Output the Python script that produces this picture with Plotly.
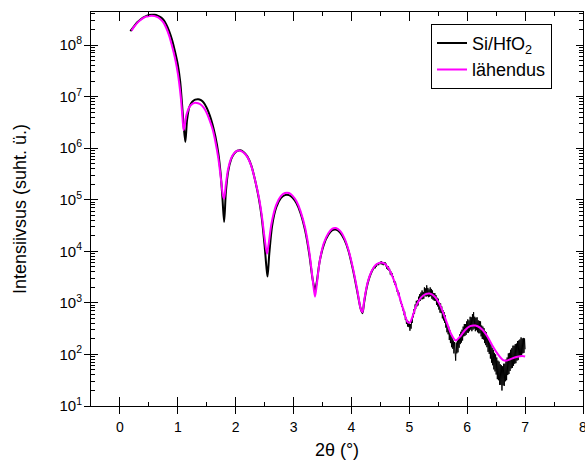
import numpy as np
import plotly.graph_objects as go

# ---- values (log10 of intensity, arbitrary units) ----
# measured curve Si/HfO2, smooth low-angle part
data_x_a = [0.18, 0.25, 0.30, 0.35, 0.40, 0.45, 0.50, 0.55, 0.60, 0.65, 0.70, 0.75, 0.80, 0.85,
            0.90, 0.95, 1.00, 1.04, 1.07, 1.10, 1.13, 1.16, 1.20, 1.25, 1.30, 1.35, 1.40, 1.45,
            1.50, 1.55, 1.60, 1.65, 1.70, 1.74, 1.77, 1.80, 1.83, 1.87, 1.92, 1.97, 2.03, 2.08,
            2.13, 2.20, 2.27, 2.33, 2.40, 2.45, 2.50, 2.53, 2.55, 2.58, 2.63, 2.70, 2.78, 2.85,
            2.92, 2.98, 3.05, 3.12, 3.20, 3.27, 3.33, 3.37, 3.40, 3.45, 3.52, 3.60, 3.67, 3.73,
            3.80, 3.88, 3.95, 4.03, 4.10, 4.16, 4.19, 4.22, 4.26, 4.30, 4.34, 4.37, 4.40]
data_log_a = [8.27, 8.37, 8.44, 8.49, 8.53, 8.56, 8.58, 8.585, 8.585, 8.57, 8.54, 8.49, 8.40, 8.27,
              8.10, 7.88, 7.62, 7.30, 6.90, 6.45, 6.12, 6.55, 6.80, 6.90, 6.94, 6.95, 6.93, 6.88,
              6.78, 6.64, 6.46, 6.22, 5.90, 5.50, 5.05, 4.57, 5.15, 5.55, 5.78, 5.89, 5.95, 5.96,
              5.93, 5.84, 5.66, 5.40, 5.02, 4.65, 4.10, 3.70, 3.51, 3.95, 4.50, 4.85, 5.03, 5.09,
              5.09, 5.04, 4.93, 4.74, 4.40, 3.95, 3.45, 3.25, 3.40, 3.80, 4.12, 4.32, 4.41, 4.42,
              4.37, 4.22, 4.00, 3.62, 3.22, 2.88, 2.80, 3.02, 3.28, 3.46, 3.58, 3.65, 3.70]

# measured curve, noisy high-angle part (scan step 0.01 deg, 4.40 ... 7.00)
data_x_b = [4.40, 4.41, 4.42, 4.43, 4.44, 4.45, 4.46, 4.47, 4.48, 4.49,
            4.50, 4.51, 4.52, 4.53, 4.54, 4.55, 4.56, 4.57, 4.58, 4.59,
            4.60, 4.61, 4.62, 4.63, 4.64, 4.65, 4.66, 4.67, 4.68, 4.69,
            4.70, 4.71, 4.72, 4.73, 4.74, 4.75, 4.76, 4.77, 4.78, 4.79,
            4.80, 4.81, 4.82, 4.83, 4.84, 4.85, 4.86, 4.87, 4.88, 4.89,
            4.90, 4.91, 4.92, 4.93, 4.94, 4.95, 4.96, 4.97, 4.98, 4.99,
            5.00, 5.01, 5.02, 5.03, 5.04, 5.05, 5.06, 5.07, 5.08, 5.09,
            5.10, 5.11, 5.12, 5.13, 5.14, 5.15, 5.16, 5.17, 5.18, 5.19,
            5.20, 5.21, 5.22, 5.23, 5.24, 5.25, 5.26, 5.27, 5.28, 5.29,
            5.30, 5.31, 5.32, 5.33, 5.34, 5.35, 5.36, 5.37, 5.38, 5.39,
            5.40, 5.41, 5.42, 5.43, 5.44, 5.45, 5.46, 5.47, 5.48, 5.49,
            5.50, 5.51, 5.52, 5.53, 5.54, 5.55, 5.56, 5.57, 5.58, 5.59,
            5.60, 5.61, 5.62, 5.63, 5.64, 5.65, 5.66, 5.67, 5.68, 5.69,
            5.70, 5.71, 5.72, 5.73, 5.74, 5.75, 5.76, 5.77, 5.78, 5.79,
            5.80, 5.81, 5.82, 5.83, 5.84, 5.85, 5.86, 5.87, 5.88, 5.89,
            5.90, 5.91, 5.92, 5.93, 5.94, 5.95, 5.96, 5.97, 5.98, 5.99,
            6.00, 6.01, 6.02, 6.03, 6.04, 6.05, 6.06, 6.07, 6.08, 6.09,
            6.10, 6.11, 6.12, 6.13, 6.14, 6.15, 6.16, 6.17, 6.18, 6.19,
            6.20, 6.21, 6.22, 6.23, 6.24, 6.25, 6.26, 6.27, 6.28, 6.29,
            6.30, 6.31, 6.32, 6.33, 6.34, 6.35, 6.36, 6.37, 6.38, 6.39,
            6.40, 6.41, 6.42, 6.43, 6.44, 6.45, 6.46, 6.47, 6.48, 6.49,
            6.50, 6.51, 6.52, 6.53, 6.54, 6.55, 6.56, 6.57, 6.58, 6.59,
            6.60, 6.61, 6.62, 6.63, 6.64, 6.65, 6.66, 6.67, 6.68, 6.69,
            6.70, 6.71, 6.72, 6.73, 6.74, 6.75, 6.76, 6.77, 6.78, 6.79,
            6.80, 6.81, 6.82, 6.83, 6.84, 6.85, 6.86, 6.87, 6.88, 6.89,
            6.90, 6.91, 6.92, 6.93, 6.94, 6.95, 6.96, 6.97, 6.98, 6.99,
            7.00]
data_log_b = [3.71, 3.67, 3.72, 3.70, 3.76, 3.73, 3.77, 3.73, 3.79, 3.75,
              3.80, 3.75, 3.81, 3.74, 3.78, 3.73, 3.79, 3.74, 3.79, 3.71,
              3.76, 3.66, 3.71, 3.64, 3.71, 3.62, 3.66, 3.55, 3.61, 3.52,
              3.58, 3.48, 3.52, 3.40, 3.44, 3.35, 3.41, 3.30, 3.33, 3.21,
              3.25, 3.14, 3.20, 3.10, 3.12, 2.99, 3.03, 2.92, 2.97, 2.85,
              2.90, 2.76, 2.83, 2.67, 2.72, 2.59, 2.67, 2.54, 2.65, 2.53,
              2.60, 2.46, 2.59, 2.50, 2.66, 2.61, 2.79, 2.72, 2.88, 2.79,
              2.97, 2.88, 3.04, 2.93, 3.05, 2.95, 3.12, 3.03, 3.17, 3.04,
              3.20, 3.07, 3.24, 3.07, 3.21, 3.08, 3.30, 3.13, 3.28, 3.12,
              3.34, 3.13, 3.29, 3.11, 3.26, 3.12, 3.30, 3.13, 3.27, 3.08,
              3.24, 3.06, 3.19, 3.04, 3.19, 3.04, 3.15, 2.96, 3.10, 2.93,
              3.08, 2.87, 3.00, 2.81, 2.99, 2.80, 2.93, 2.70, 2.86, 2.66,
              2.82, 2.61, 2.76, 2.52, 2.64, 2.43, 2.60, 2.39, 2.54, 2.28,
              2.47, 2.22, 2.38, 2.14, 2.35, 2.11, 2.27, 2.02, 2.24, 2.01,
              1.88, 2.23, 2.02, 2.27, 2.04, 2.30, 2.13, 2.39, 2.20, 2.44,
              2.23, 2.48, 2.27, 2.54, 2.35, 2.59, 2.36, 2.59, 2.38, 2.64,
              2.42, 2.68, 2.42, 2.66, 2.45, 2.73, 2.48, 2.72, 2.45, 2.78,
              2.48, 2.82, 2.50, 2.73, 2.45, 2.71, 2.47, 2.72, 2.43, 2.66,
              2.41, 2.65, 2.41, 2.64, 2.35, 2.56, 2.30, 2.54, 2.29, 2.51,
              2.22, 2.45, 2.18, 2.43, 2.14, 2.36, 2.05, 2.29, 2.01, 2.25,
              1.92, 2.20, 1.84, 2.13, 1.79, 2.09, 1.71, 2.03, 1.67, 2.00,
              1.61, 1.94, 1.52, 1.88, 1.50, 1.86, 1.41, 1.81, 1.41, 1.79,
              1.30, 1.77, 1.40, 1.82, 1.39, 1.82, 1.48, 1.90, 1.50, 1.94,
              1.60, 2.02, 1.62, 2.03, 1.68, 2.09, 1.73, 2.12, 1.74, 2.17,
              1.78, 2.17, 1.82, 2.20, 1.83, 2.21, 1.88, 2.26, 1.89, 2.27,
              1.95, 2.29, 1.95, 2.33, 1.98, 2.31, 2.02, 2.32, 2.03, 2.31,
              2.10]

# fitted curve "lähendus"
fit_x = [0.20, 0.25, 0.30, 0.35, 0.40, 0.45, 0.50, 0.55, 0.60, 0.65, 0.70, 0.75, 0.80, 0.85, 0.90,
         0.95, 1.00, 1.05, 1.08, 1.10, 1.12, 1.15, 1.20, 1.25, 1.30, 1.35, 1.40, 1.45, 1.50, 1.55,
         1.60, 1.65, 1.70, 1.75, 1.78, 1.80, 1.83, 1.87, 1.92, 1.97, 2.03, 2.08, 2.13, 2.20, 2.27,
         2.33, 2.40, 2.45, 2.50, 2.54, 2.57, 2.62, 2.70, 2.78, 2.85, 2.92, 2.98, 3.05, 3.12, 3.20,
         3.27, 3.33, 3.37, 3.40, 3.45, 3.52, 3.60, 3.67, 3.73, 3.80, 3.88, 3.95, 4.03, 4.10, 4.16,
         4.19, 4.22, 4.28, 4.35, 4.42, 4.50, 4.57, 4.65, 4.73, 4.82, 4.90, 4.97, 5.01, 5.05, 5.12,
         5.20, 5.28, 5.35, 5.43, 5.52, 5.62, 5.72, 5.80, 5.88, 5.96, 6.05, 6.14, 6.22, 6.32, 6.42,
         6.52, 6.62, 6.68, 6.75, 6.85, 6.95, 7.00]
fit_log = [8.28, 8.36, 8.43, 8.48, 8.52, 8.55, 8.56, 8.565, 8.56, 8.54, 8.50, 8.44, 8.33, 8.18, 7.98,
           7.75, 7.45, 7.00, 6.60, 6.35, 6.45, 6.65, 6.80, 6.86, 6.88, 6.87, 6.84, 6.78, 6.68, 6.54,
           6.37, 6.12, 5.80, 5.35, 5.08, 5.02, 5.30, 5.60, 5.80, 5.90, 5.95, 5.95, 5.92, 5.83, 5.65,
           5.40, 5.05, 4.70, 4.25, 3.95, 4.15, 4.55, 4.90, 5.07, 5.13, 5.13, 5.08, 4.97, 4.78, 4.45,
           4.00, 3.45, 3.12, 3.35, 3.80, 4.15, 4.35, 4.44, 4.45, 4.40, 4.25, 4.02, 3.65, 3.25, 2.88,
           2.82, 3.05, 3.40, 3.62, 3.74, 3.78, 3.76, 3.65, 3.45, 3.15, 2.85, 2.63, 2.62, 2.72, 2.95,
           3.10, 3.17, 3.18, 3.13, 2.98, 2.70, 2.40, 2.27, 2.35, 2.47, 2.55, 2.56, 2.52, 2.40, 2.20,
           2.02, 1.89, 1.88, 1.91, 1.95, 1.97, 1.96]

series_names = ["Si/HfO<sub>2</sub>", "lähendus"]
x_title = "2θ (°)"
y_title = "Intensiivsus (suht. ü.)"
x_tickvals = [0, 1, 2, 3, 4, 5, 6, 7, 8]
y_exponents = [1, 2, 3, 4, 5, 6, 7, 8]

FONT = "Arial, 'Liberation Sans', sans-serif"

fig = go.Figure()
fig.add_trace(go.Scatter(
    x=data_x_a, y=10 ** np.array(data_log_a), mode="lines",
    line=dict(color="black", width=2, shape="spline", smoothing=0.8),
    name=series_names[0], legendgroup="d"))
fig.add_trace(go.Scatter(
    x=data_x_b, y=10 ** np.array(data_log_b), mode="lines",
    line=dict(color="black", width=1),
    name=series_names[0], legendgroup="d", showlegend=False))
fig.add_trace(go.Scatter(
    x=fit_x, y=10 ** np.array(fit_log), mode="lines", xaxis="x2", yaxis="y2",
    line=dict(color="#FF00FF", width=2, shape="spline", smoothing=0.8),
    name=series_names[1]))

xr = [-0.5, 8.0]
yr = [1, 8.64]

fig.update_layout(
    width=585, height=466,
    margin=dict(l=91, r=2, t=12, b=60, autoexpand=False),
    paper_bgcolor="white", plot_bgcolor="white",
    font=dict(family=FONT, color="black", size=14),
    showlegend=True,
    legend=dict(x=0.937, y=0.97, xanchor="right", yanchor="top",
                bgcolor="white", bordercolor="black", borderwidth=1,
                font=dict(size=18, family=FONT), tracegroupgap=0),
    xaxis=dict(range=xr, tickmode="array", tickvals=x_tickvals,
               ticktext=[str(v) for v in x_tickvals],
               ticks="inside", ticklen=9, tickwidth=1,
               tickcolor="black", showline=True, linecolor="black", linewidth=1,
               mirror="allticks", showgrid=False, zeroline=False, automargin=False,
               ticklabeloverflow="allow",
               minor=dict(dtick=0.5, tick0=0, ticks="inside", ticklen=4, tickcolor="black", showgrid=False),
               tickfont=dict(size=14), ticklabelstandoff=8,
               title=dict(text=x_title, font=dict(size=18), standoff=9)),
    yaxis=dict(type="log", range=yr, tickmode="array",
               tickvals=[10 ** e for e in y_exponents],
               ticktext=["10<sup>%d</sup>" % e for e in y_exponents],
               ticks="inside", ticklen=7, tickwidth=1,
               tickcolor="black", showline=True, linecolor="black", linewidth=1,
               mirror="allticks", showgrid=False, zeroline=False, automargin=False,
               minor=dict(dtick="D1", ticks="inside", ticklen=4, tickcolor="black", showgrid=False),
               tickfont=dict(size=15), ticklabelstandoff=5,
               title=dict(text=y_title, font=dict(size=18), standoff=28)),
    xaxis2=dict(range=xr, overlaying="x", anchor="y", side="bottom",
                tickmode="array", tickvals=x_tickvals,
                ticks="outside", ticklen=7, tickwidth=1, tickcolor="black",
                showticklabels=False, showline=False, showgrid=False, zeroline=False),
    yaxis2=dict(type="log", range=yr, overlaying="y", anchor="x", side="left",
                tickmode="array", tickvals=[10 ** e for e in y_exponents],
                ticks="outside", ticklen=6, tickwidth=1, tickcolor="black",
                showticklabels=False, showline=False, showgrid=False, zeroline=False),
)

fig.write_html("out.html",
               config={"displayModeBar": False},
               post_script="document.body.style.margin='0px';document.body.style.overflow='hidden';")
